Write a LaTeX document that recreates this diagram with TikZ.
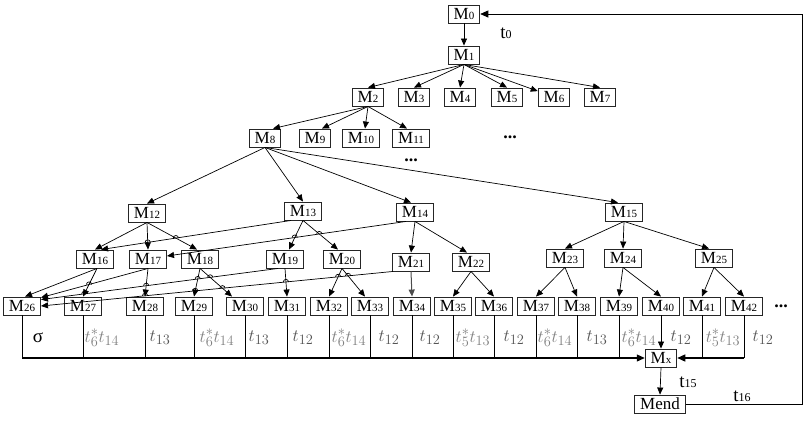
\documentclass[tikz,border=0pt]{standalone}
\usepackage{fontspec}
\setmainfont{Liberation Serif}
\usetikzlibrary{arrows.meta,intersections}
\newcommand\mlab[1]{M{\fontsize{11}{12}\selectfont #1}}
\newcommand\tlab[1]{t{\fontsize{12}{13}\selectfont #1}}
\definecolor{labdark}{gray}{0.33}
\definecolor{lablight}{gray}{0.5}
\newcommand\hopat[2]{%
  \begin{scope}[name intersections={of=#1 and #2, total=\hoptot}]
    \ifnum\hoptot>0
      \draw[wire] (intersection-1) ++(-2.6pt,0pt) arc[start angle=180, end angle=0, radius=2.6pt];
    \fi
  \end{scope}}
\begin{document}
\begin{tikzpicture}[x=1pt,y=-1pt,
  box/.style={draw=black!85, line width=0.9pt, fill=white, inner xsep=5.5pt, inner ysep=0pt,
    minimum height=18pt, text height=11.5pt, text depth=0.5pt, font=\fontsize{17}{18}\selectfont},
  edge/.style={draw=black, line width=0.7pt, -{Triangle[length=7pt,width=6pt]}},
  wire/.style={draw=black, line width=0.7pt},
  buswire/.style={draw=black, line width=1.3pt},
  tl/.style={font=\fontsize{19}{20}\selectfont, text=labdark, inner sep=0pt},
  tls/.style={font=\fontsize{19}{20}\selectfont, text=lablight, inner sep=0pt},
  plain/.style={font=\fontsize{19}{20}\selectfont, inner sep=0pt},
  dots/.style={font=\bfseries\fontsize{18}{18}\selectfont, inner sep=0pt, text height=3pt, text depth=0pt}]
\useasboundingbox (0,0) rectangle (805,421);
% level 0-1
\node[box] (M0) at (464,14) {\mlab{0}};
\node[box] (M1) at (464,55) {\mlab{1}};
% level 2
\node[box] (M2) at (368,97) {\mlab{2}};
\node[box] (M3) at (414,97) {\mlab{3}};
\node[box] (M4) at (460,97) {\mlab{4}};
\node[box] (M5) at (507,97) {\mlab{5}};
\node[box] (M6) at (554,97) {\mlab{6}};
\node[box] (M7) at (600,97) {\mlab{7}};
% level 3
\node[box] (M8) at (265,138) {\mlab{8}};
\node[box] (M9) at (315,138) {\mlab{9}};
\node[box] (M10) at (361,138) {\mlab{10}};
\node[box] (M11) at (411,138) {\mlab{11}};
% level 4
\node[box] (M12) at (147,213) {\mlab{12}};
\node[box] (M13) at (303,211) {\mlab{13}};
\node[box] (M14) at (415,212) {\mlab{14}};
\node[box] (M15) at (624,212) {\mlab{15}};
% level 5
\node[box] (M16) at (95,259) {\mlab{16}};
\node[box] (M17) at (148,259) {\mlab{17}};
\node[box] (M18) at (200,259) {\mlab{18}};
\node[box] (M19) at (285,259) {\mlab{19}};
\node[box] (M20) at (342,259) {\mlab{20}};
\node[box] (M21) at (411,262) {\mlab{21}};
\node[box] (M22) at (471,262) {\mlab{22}};
\node[box] (M23) at (565,258) {\mlab{23}};
\node[box] (M24) at (623,258) {\mlab{24}};
\node[box] (M25) at (714,258) {\mlab{25}};
% level 6
\foreach \n/\x in {26/22,27/83,28/145,29/194,30/245,31/287,32/329,33/370,34/412,35/453,36/494,37/536,38/577,39/619,40/661,41/702,42/744}
  \node[box] (M\n) at (\x,306) {\mlab{\n}};
% collector
\node[box] (Mx) at (661,358) {\mlab{x}};
\node[box] (Mend) at (660,404) {Mend};
% dots
\node[dots] (d1) at (510,137) {...};
\node[dots] (d2) at (411,160) {...};
\node[dots] (d3) at (781,306) {...};
% t labels
\node[plain] (t0) at (506,33) {\tlab{0}};
\node[plain] (t15) at (688,382) {\tlab{15}};
\node[plain] (t16) at (742,396) {\tlab{16}};

% edges level 0-2
\draw[edge] (M0) -- (M1);
\foreach \c in {2,3,4,5,7}
  \draw[edge] (M1.south) -- (M\c.north);
\draw[edge] (M1.south) -- (M6);
% level 2-3
\draw[edge] (M2.south) -- ([xshift=8pt]M8.north);
\draw[edge] (M2.south) -- ([xshift=7pt]M9.north);
\draw[edge] (M2.south) -- ([xshift=4pt]M10.north);
\draw[edge] (M2.south) -- ([xshift=-4pt]M11.north);
% level 3-4
\draw[edge] (M8.south) -- (M12.north);
\draw[edge] (M8.south) -- (M13.north);
\draw[edge] (M8.south) -- ([xshift=-4pt]M14.north);
\draw[edge] (M8.south) -- ([xshift=-6pt]M15.north);
% level 4-5
\draw[edge, name path=e12a] (M12.south) -- (M16.north);
\draw[edge, name path=e12b] (M12.south) -- (M17.north);
\draw[edge, name path=e12c] (M12.south) -- ([xshift=-3pt]M18.north);
\draw[edge, name path=e13a] ([xshift=-12pt]M13.south) -- ([xshift=6pt]M16.north);
\draw[edge, name path=e13b] (M13.south) -- ([xshift=4pt]M19.north);
\draw[edge, name path=e13c] (M13.south) -- ([xshift=-4pt]M20.north);
\draw[edge, name path=e14a] ([xshift=-9pt]M14.south) -- ([yshift=3pt]M17.east);
\draw[edge] (M14.south) -- (M21.north);
\draw[edge] (M14.south) -- ([xshift=-4pt]M22.north);
\draw[edge] (M15.south) -- (M23.north);
\draw[edge] (M15.south) -- (M24.north);
\draw[edge] (M15.south) -- ([xshift=-5pt]M25.north);
% level 5-6
\draw[edge, name path=f16a] ([xshift=2pt]M16.south) -- ([xshift=3pt]M26.north);
\draw[edge, name path=f16b] ([xshift=2pt]M16.south) -- (M27.north);
\draw[edge, name path=f17a] (M17.south) -- ([yshift=-1pt]M26.north east);
\draw[edge, name path=f17b] (M17.south) -- (M28.north);
\draw[edge, name path=f18a] (M18.south) -- (M29.north);
\draw[edge, name path=f18b] (M18.south) -- ([xshift=-13pt]M30.north);
\draw[edge, name path=f19a] ([xshift=-7pt]M19.south) -- ([yshift=-3pt]M26.north east);
\draw[edge, name path=f19b] (M19.south) -- (M31.north);
\draw[edge, name path=f20a] (M20.south) -- (M32.north);
\draw[edge, name path=f20b] (M20.south) -- ([xshift=-5pt]M33.north);
\draw[edge, name path=f21a] ([xshift=-18pt]M21.south) -- (M26.east);
\draw[edge, draw=black!70, line width=1pt] (M21.south) -- (M34.north);
\draw[edge] (M22.south) -- (M35.north);
\draw[edge] (M22.south) -- (M36.north);
\draw[edge] (M23.south) -- (M37.north);
\draw[edge] (M23.south) -- (M38.north);
\draw[edge] (M24.south) -- (M39.north);
\draw[edge] (M24.south) -- (M40.north);
\draw[edge] (M25.south) -- (M41.north);
\draw[edge] (M25.south) -- (M42.north);
% line hops
\hopat{e13a}{e12b}
\hopat{e13a}{e12c}
\hopat{e14a}{e13b}
\hopat{e14a}{e13c}
\hopat{f19a}{f16b}
\hopat{f19a}{f17b}
\hopat{f19a}{f18a}
\hopat{f19a}{f18b}
\hopat{f21a}{f16b}
\hopat{f21a}{f17b}
\hopat{f21a}{f18a}
\hopat{f21a}{f18b}
\hopat{f21a}{f19b}
\hopat{f21a}{f20a}
\hopat{f21a}{f20b}
\hopat{f17a}{f16b}
% bus
\coordinate (busL) at (M26.south |- Mx.west);
\coordinate (busR) at (M42.south |- Mx.east);
\draw[wire] (M26.south) -- (busL);
\draw[buswire, -{Triangle[length=8pt,width=7pt]}] (busL) -- (Mx.west);
\foreach \n in {27,...,39}
  \draw[wire] (M\n.south) -- (M\n.south |- Mx.west);
\draw[wire] (M41.south) -- (M41.south |- Mx.east);
\draw[wire] (M42.south) -- (busR);
\draw[buswire, -{Triangle[length=8pt,width=7pt]}] (busR) -- (Mx.east);
\draw[edge] (M40.south) -- (Mx.north);
\draw[edge] (Mx.south) -- (Mend.north);
\coordinate (rb) at (802,404);
\coordinate (rt) at (802,14);
\draw[wire, -{Triangle[length=8pt,width=7pt]}] (Mend.east) -- (rb) -- (rt) -- (M0.east);
% bus labels
\node[plain] (s0) at (38,338) {σ};
\node[tls] (l1) at (102,338) {$t_6^*t_{14}$};
\node[tl] (l2) at (160,338) {$t_{13}$};
\node[tls] (l3) at (217,338) {$t_6^*t_{14}$};
\node[tl] (l4) at (259,338) {$t_{13}$};
\node[tl] (l5) at (303,338) {$t_{12}$};
\node[tls] (l6) at (349,338) {$t_6^*t_{14}$};
\node[tl] (l7) at (389,338) {$t_{12}$};
\node[tl] (l8) at (430,338) {$t_{12}$};
\node[tls] (l9) at (473,338) {$t_5^*t_{13}$};
\node[tl] (l10) at (514,338) {$t_{12}$};
\node[tls] (l11) at (555,338) {$t_6^*t_{14}$};
\node[tl] (l12) at (597,338) {$t_{13}$};
\node[tls] (l13) at (639,338) {$t_6^*t_{14}$};
\node[tl] (l14) at (681,338) {$t_{12}$};
\node[tls] (l15) at (723,338) {$t_5^*t_{13}$};
\node[tl] (l16) at (763,338) {$t_{12}$};
\end{tikzpicture}
\end{document}
